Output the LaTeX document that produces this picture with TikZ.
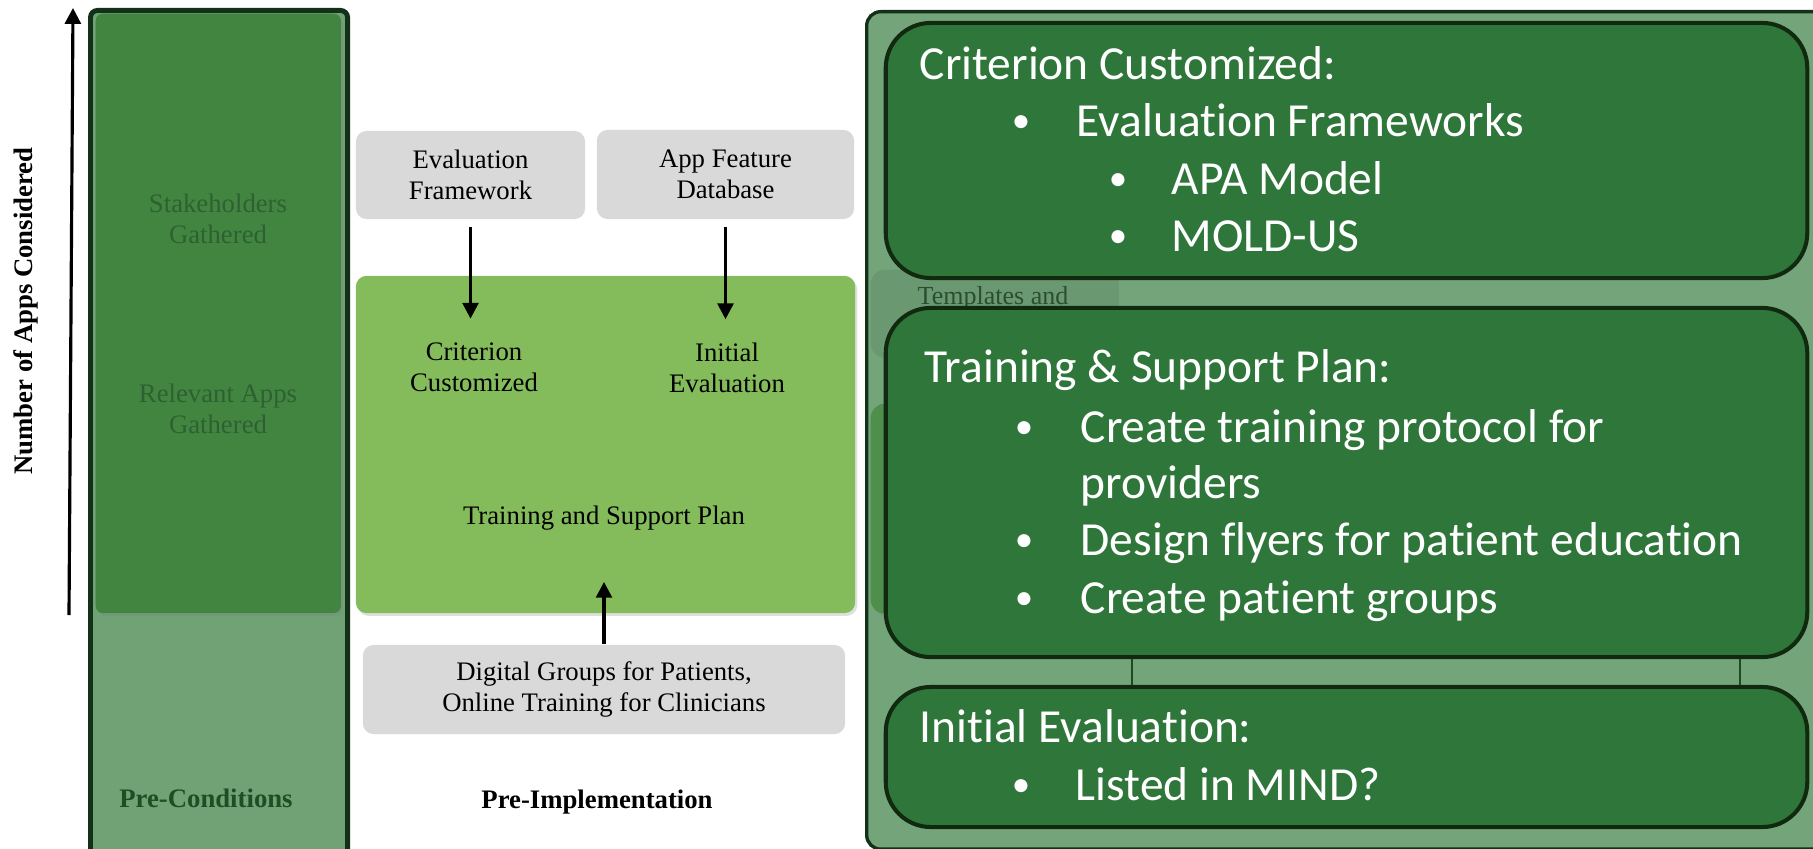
\documentclass[tikz,border=0pt]{standalone}
\usepackage{fontspec}
\setmainfont{Liberation Serif}
\newfontfamily\calibfont[Ligatures=NoCommon]{Carlito}
\usetikzlibrary{arrows.meta,shadows}
\definecolor{lofill}{HTML}{70A276}
\definecolor{lifill}{HTML}{428540}
\definecolor{bord}{HTML}{133019}
\definecolor{rpfill}{HTML}{74A57A}
\definecolor{rbfill}{HTML}{2F763A}
\definecolor{rbbord}{HTML}{10290F}
\definecolor{midgreen}{HTML}{84BC5C}
\definecolor{grayfill}{HTML}{D9D9D9}
\definecolor{ltext}{HTML}{2D6131}
\definecolor{ptext}{HTML}{1F4D25}
\definecolor{hidrect}{HTML}{6A9870}
\definecolor{hidgreen}{HTML}{4F8F4C}
\definecolor{tmpltext}{HTML}{2B4E2F}
\definecolor{vline}{HTML}{1E4A24}
\begin{document}
\begin{tikzpicture}[x=0.01cm,y=-0.01cm,
  serif/.style={font=\fontsize{7.6pt}{8.9pt}\selectfont, align=center, inner sep=0pt},
  serifbold/.style={font=\fontsize{7.6pt}{8.9pt}\selectfont\bfseries, inner sep=0pt},
  bigtxt/.style={font=\calibfont\fontsize{13.5pt}{16pt}\selectfont, text=white, inner sep=0pt, anchor=base west},
  bul/.style={font=\calibfont\fontsize{10.5pt}{12pt}\selectfont, text=white, inner sep=0pt, anchor=base},
  graybox/.style={rectangle, rounded corners=3pt, fill=grayfill, draw=none, align=center, inner sep=0pt, font=\fontsize{7.6pt}{8.9pt}\selectfont},
  rbox/.style={rectangle, rounded corners=0.45cm, fill=rbfill, draw=rbbord, line width=1.15pt},
  arr/.style={-{Triangle[width=4.5pt,length=4.5pt]}, line width=0.9pt, black},
  softshadow/.style={drop shadow={opacity=0.25, shadow xshift=0.6pt, shadow yshift=-0.8pt}},
]
\useasboundingbox (0,0) rectangle (1813,849);

% ---------- left panel ----------
\node[rectangle, fill=lofill, draw=bord, line width=1.4pt, rounded corners=2pt,
      minimum width=2.57cm, minimum height=8.70cm, anchor=north west, inner sep=0pt] (lpanel) at (88,8) {};
\node[rectangle, fill=lifill, rounded corners=2pt, softshadow,
      minimum width=2.45cm, minimum height=5.99cm, anchor=north west, inner sep=0pt] (linner) at (95,13) {};
\node[serif, text=ltext] (stake) at (218,219) {Stakeholders\\Gathered};
\node[serif, text=ltext] (relapps) at (218,409) {Relevant Apps\\Gathered};
\node[serifbold, text=ptext, anchor=base] (precond) at (206,807) {Pre-Conditions};

% axis arrow and label
\coordinate (axlo) at (69,615);
\coordinate (axhi) at (73,8);
\draw[arr] (axlo) -- (axhi);
\node[font=\fontsize{7.6pt}{9pt}\selectfont\bfseries, rotate=90, inner sep=0pt] (axlabel) at (26,311) {Number of Apps Considered};

% ---------- middle ----------
\node[graybox, minimum width=2.29cm, minimum height=0.88cm] (ef) at (470.5,175) {Evaluation\\Framework};
\node[graybox, minimum width=2.57cm, minimum height=0.89cm] (afd) at (725.5,174.5) {App Feature\\Database};
\node[rectangle, fill=midgreen, rounded corners=3pt, softshadow,
      minimum width=4.99cm, minimum height=3.37cm, inner sep=0pt] (gbox) at (605.5,444.5) {};
\node[serif] (cc) at (474,367) {Criterion\\Customized};
\node[serif] (ie) at (727,368) {Initial\\Evaluation};
\node[serif] (tsp) at (604,518) {Training and Support Plan};
\node[graybox, minimum width=4.82cm, minimum height=0.89cm] (dg) at (604,689.5) {Digital Groups for Patients,\\Online Training for Clinicians};
\node[serifbold, anchor=base] (preimp) at (597,808) {Pre-Implementation};

\draw[arr, shorten <=2pt, shorten >=0.23cm] (ef.south) -- (ef.south |- cc.north);
\draw[arr, shorten <=2pt, shorten >=0.23cm] (afd.south) -- (afd.south |- ie.north);
\draw[arr, shorten >=0.51cm] (dg.north) -- (dg.north |- tsp.south);

% ---------- right panel ----------
\node[rectangle, fill=rpfill, draw=bord, line width=0.95pt, rounded corners=4pt,
      minimum width=9.8cm, minimum height=8.37cm, anchor=north west, inner sep=0pt] (rpanel) at (865,10) {};
\node[rectangle, fill=hidrect, rounded corners=4pt, minimum width=2.48cm, minimum height=0.88cm,
      anchor=north west, inner sep=0pt] (hidr) at (870,269) {};
\node[font=\fontsize{7.4pt}{8.9pt}\selectfont, text=tmpltext, anchor=base west, inner sep=0pt] (tmpl) at (917,305) {Templates and};
\node[rectangle, fill=hidgreen, rounded corners=4pt, softshadow, minimum width=1.3cm, minimum height=2.10cm,
      anchor=north west, inner sep=0pt] (hidg) at (870,403) {};

\node[rbox, minimum width=9.21cm, minimum height=2.55cm] (b1) at (1346.5,150.5) {};
\node[rbox, minimum width=9.21cm, minimum height=3.49cm] (b2) at (1346.5,482.5) {};
\node[rbox, minimum width=9.21cm, minimum height=1.40cm] (b3) at (1346.5,757) {};

\coordinate (v1) at (1132,0);
\coordinate (v2) at (1740,0);
\draw[vline, line width=0.7pt] (b2.south -| v1) -- (b3.north -| v1);
\draw[vline, line width=0.7pt] (b2.south -| v2) -- (b3.north -| v2);

% box 1 text
\node[bigtxt] (t1) at (919,80) {Criterion Customized:};
\node[bul] (t1b1) at (1021,133) {•};
\node[bigtxt] (t1l1) at (1076,137) {Evaluation Frameworks};
\node[bul] (t1b2) at (1118,191) {•};
\node[bigtxt] (t1l2) at (1171,195) {APA Model};
\node[bul] (t1b3) at (1118,248) {•};
\node[bigtxt] (t1l3) at (1171,252) {MOLD-US};

% box 2 text
\node[bigtxt] (t2) at (924,383) {Training \& Support Plan:};
\node[bul] (t2b1) at (1024,438) {•};
\node[bigtxt] (t2l1) at (1080,442) {Create training protocol for};
\node[bigtxt] (t2l1b) at (1080,498) {providers};
\node[bul] (t2b2) at (1024,551) {•};
\node[bigtxt] (t2l2) at (1080,555) {Design flyers for patient education};
\node[bul] (t2b3) at (1024,609) {•};
\node[bigtxt] (t2l3) at (1080,613) {Create patient groups};

% box 3 text
\node[bigtxt] (t3) at (919,742) {Initial Evaluation:};
\node[bul] (t3b1) at (1021,796) {•};
\node[bigtxt] (t3l1) at (1075,800) {Listed in MIND?};
\end{tikzpicture}
\end{document}
